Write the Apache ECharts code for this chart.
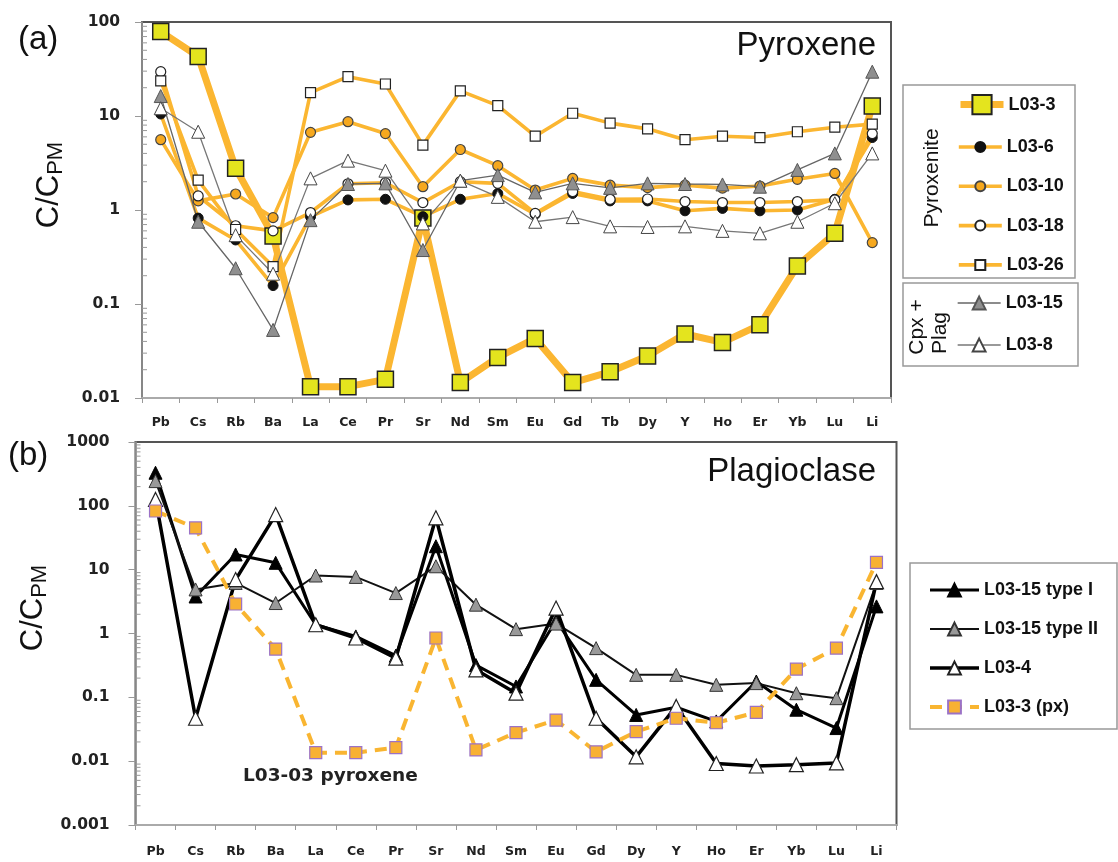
<!DOCTYPE html>
<html><head><meta charset="utf-8">
<script src="https://cdn.jsdelivr.net/npm/echarts@6/dist/echarts.min.js"></script>
<style>html,body{margin:0;padding:0;background:#fff}#c{width:1118px;height:862px}</style>
</head><body><div id="c"></div>
<script>
// ---------- categories & tick labels ----------
const topCats = ['Pb','Cs','Rb','Ba','La','Ce','Pr','Sr','Nd','Sm','Eu','Gd','Tb','Dy','Y','Ho','Er','Yb','Lu','Li'];
const botCats = ['Pb','Cs','Rb','Ba','La','Ce','Pr','Sr','Nd','Sm','Eu','Gd','Dy','Y','Ho','Er','Yb','Lu','Li'];
const topTickLabels = ['0.01','0.1','1','10','100'];
const botTickLabels = ['0.001','0.01','0.1','1','10','100','1000'];

// ---------- (a) Pyroxene ----------
const L03_3  = [79,43,2.78,0.53,0.0132,0.0132,0.0158,0.82,0.0146,0.027,0.043,0.0146,0.019,0.028,0.048,0.039,0.06,0.254,0.565,12.8];
const L03_6  = [10.5,0.82,0.48,0.157,0.85,1.28,1.3,0.85,1.3,1.5,0.9,1.5,1.25,1.25,0.98,1.04,0.98,1.0,1.3,5.9];
const L03_10 = [5.6,1.25,1.48,0.83,6.7,8.7,6.5,1.77,4.4,2.96,1.63,2.17,1.84,1.73,1.84,1.71,1.8,2.12,2.45,0.45];
const L03_18 = [29.6,1.41,0.68,0.6,0.94,1.9,1.95,1.2,2.0,1.92,0.92,1.57,1.3,1.31,1.23,1.2,1.2,1.23,1.28,6.5];
const L03_26 = [23.6,2.08,0.62,0.25,17.7,26.2,21.9,4.9,18.5,12.9,6.1,10.7,8.4,7.3,5.6,6.1,5.9,6.8,7.6,8.2];
const L03_15 = [16.3,0.75,0.24,0.053,0.78,1.89,1.92,0.375,2.05,2.35,1.54,1.92,1.72,1.92,1.89,1.87,1.77,2.67,4.0,29.6];
const L03_8  = [12.1,6.8,0.54,0.21,2.17,3.35,2.62,0.72,2.05,1.38,0.75,0.84,0.67,0.66,0.67,0.6,0.565,0.75,1.18,4.0];

// ---------- (b) Plagioclase ----------
const typeI   = [330,3.8,17.3,12.8,1.37,0.9,0.45,23.3,0.32,0.148,1.6,0.188,0.053,0.07,0.042,0.177,0.064,0.033,2.66];
const typeII  = [244,4.9,6.2,3.0,8.1,7.7,4.3,11.3,2.83,1.17,1.43,0.59,0.225,0.225,0.157,0.167,0.116,0.097,6.2];
const L03_4   = [126,0.047,7,73,1.37,0.85,0.41,65,0.27,0.116,2.5,0.047,0.0117,0.072,0.0092,0.0084,0.0088,0.0094,6.5];
const L03_3px = [83,45,2.9,0.57,0.0136,0.0136,0.0163,0.85,0.015,0.028,0.044,0.014,0.029,0.047,0.04,0.058,0.277,0.59,13];

const ORANGE = '#FBB631';
const legendText = {fontFamily:'Liberation Sans', fontWeight:'bold', fontSize:18, color:'#111', lineHeight:20};
const catLabel = {color:'#222', fontWeight:'bold', fontSize:12.5, fontFamily:'DejaVu Sans', interval:0};
const valLabelStyle = {color:'#222', fontWeight:'bold', fontSize:15.5, fontFamily:'DejaVu Sans'};

function logFormatter(labels, minExp) {
  return v => labels[Math.round(Math.log10(v)) - minExp] || '';
}
function minorTickData(minExp, maxExp) {
  const out = [];
  for (let e = minExp; e < maxExp; e++) for (let m = 2; m <= 9; m++) out.push([0, m * Math.pow(10, e)]);
  return out;
}
function minorSeries(idx, minExp, maxExp) {
  return {
    type:'custom', xAxisIndex:idx, yAxisIndex:idx, silent:true, clip:false, z:5,
    data: minorTickData(minExp, maxExp), encode:{x:0, y:1},
    renderItem: (params, api) => {
      const v = api.value(1);
      const p = api.coord([0, v]);
      const bw = api.size([1, 0], [0, v])[0];
      const x0 = p[0] - bw / 2;
      return {type:'line', shape:{x1:x0, y1:p[1], x2:x0 + 5, y2:p[1]}, style:{stroke:'#999', lineWidth:1}};
    }
  };
}
function line(name, data, idx, symbol, size, fill, border, bw, lcolor, lwidth, ltype) {
  return {
    name, type:'line', data, xAxisIndex:idx, yAxisIndex:idx,
    symbol, symbolSize:size, showAllSymbol:true, silent:true,
    lineStyle:{color:lcolor, width:lwidth, type:ltype || 'solid'},
    itemStyle:{color:fill, borderColor:border, borderWidth:bw},
    emphasis:{disabled:true}
  };
}
function xAxisCfg(idx, cats, margin) {
  return {type:'category', gridIndex:idx, data:cats, boundaryGap:true,
    axisLine:{show:true, lineStyle:{color:'#aaa', width:2}},
    axisTick:{show:true, length:5, lineStyle:{color:'#999'}},
    axisLabel:Object.assign({margin}, catLabel), splitLine:{show:false}};
}
function yAxisCfg(idx, min, max, split, labels, minExp, margin) {
  return {type:'log', gridIndex:idx, logBase:10, min, max, splitNumber:split,
    axisLine:{show:true, lineStyle:{color:'#999', width:1.5}},
    axisTick:{show:true, length:7, lineStyle:{color:'#999'}},
    axisLabel:Object.assign({margin, formatter:logFormatter(labels, minExp)}, valLabelStyle),
    splitLine:{show:false}, minorTick:{show:false}};
}

const chart = echarts.init(document.getElementById('c'), null, {renderer:'canvas'});
chart.setOption({
  animation:false,
  backgroundColor:'#fff',
  grid:[
    {left:142, top:22, width:749, height:376, show:true, borderColor:'#555', borderWidth:2, containLabel:false, outerBoundsMode:'none'},
    {left:135.5, top:442, width:761, height:383, show:true, borderColor:'#555', borderWidth:2, containLabel:false, outerBoundsMode:'none'}
  ],
  xAxis:[xAxisCfg(0, topCats, 18), xAxisCfg(1, botCats, 20)],
  yAxis:[yAxisCfg(0, 0.01, 100, 4, topTickLabels, -2, 22), yAxisCfg(1, 0.001, 1000, 6, botTickLabels, -3, 26)],
  legend:[
    {data:['L03-3'], left:957, top:94, orient:'vertical', itemWidth:43, itemHeight:24, padding:0, selectedMode:false, textStyle:legendText, lineStyle:{width:'inherit'}},
    {data:['L03-6','L03-10','L03-18','L03-26'], left:957, top:137, orient:'vertical', itemWidth:43, itemHeight:12.5, itemGap:19.3, padding:0, selectedMode:false, textStyle:legendText, lineStyle:{width:'inherit'}},
    {data:['L03-15','L03-8'], left:957, top:293, orient:'vertical', itemWidth:43, itemHeight:16, itemGap:22, padding:0, selectedMode:false, textStyle:legendText, lineStyle:{width:'inherit'}},
    {data:['L03-15 type I','L03-15 type II','L03-4','L03-3 (px)'], left:928, top:580, orient:'vertical', itemWidth:49, itemHeight:16, itemGap:19, padding:0, selectedMode:false, textStyle:legendText, lineStyle:{width:'inherit'}}
  ],
  series:[
    minorSeries(0, -2, 2),
    minorSeries(1, -3, 3),
    line('L03-3', L03_3, 0, 'rect', 16, '#E4E41E', '#222', 1.5, ORANGE, 7),
    line('L03-6', L03_6, 0, 'circle', 10, '#111', '#111', 1, ORANGE, 3.6),
    line('L03-10', L03_10, 0, 'circle', 10, '#F6A81E', '#444', 1.2, ORANGE, 3.6),
    line('L03-18', L03_18, 0, 'circle', 10, '#fff', '#222', 1.2, ORANGE, 3.6),
    line('L03-26', L03_26, 0, 'rect', 10, '#fff', '#222', 1.2, ORANGE, 3.6),
    line('L03-15', L03_15, 0, 'triangle', 13, '#8F8F8F', '#555', 1, '#666', 1.3),
    line('L03-8', L03_8, 0, 'triangle', 13, '#fff', '#444', 1, '#777', 1.3),
    line('L03-15 type I', typeI, 1, 'triangle', 13, '#000', '#000', 1, '#000', 3),
    line('L03-15 type II', typeII, 1, 'triangle', 13, '#999', '#333', 1, '#111', 2),
    line('L03-4', L03_4, 1, 'triangle', 14, '#fff', '#222', 1.2, '#000', 3.5),
    line('L03-3 (px)', L03_3px, 1, 'rect', 12, '#F8B133', '#9B72C6', 1.2, '#F9B531', 4, [12, 8])
  ],
  graphic:[
    {type:'text', left:null, x:876, y:46, style:{text:'Pyroxene', font:'33px "Liberation Sans"', fill:'#111', align:'right', verticalAlign:'middle'}},
    {type:'text', x:876, y:472, style:{text:'Plagioclase', font:'33px "Liberation Sans"', fill:'#111', align:'right', verticalAlign:'middle'}},
    {type:'text', x:18, y:40, style:{text:'(a)', font:'33px "Liberation Sans"', fill:'#111', align:'left', verticalAlign:'middle'}},
    {type:'text', x:8, y:456, style:{text:'(b)', font:'33px "Liberation Sans"', fill:'#111', align:'left', verticalAlign:'middle'}},
    {type:'text', x:49, y:185, rotation:Math.PI/2, style:{text:'{a|C/C}{b|PM}', align:'center', verticalAlign:'middle',
      rich:{a:{fontSize:31, fontFamily:'Liberation Sans', fill:'#111', lineHeight:36}, b:{fontSize:22, fontFamily:'Liberation Sans', fill:'#111', lineHeight:22, verticalAlign:'bottom'}}}},
    {type:'text', x:33, y:608, rotation:Math.PI/2, style:{text:'{a|C/C}{b|PM}', align:'center', verticalAlign:'middle',
      rich:{a:{fontSize:31, fontFamily:'Liberation Sans', fill:'#111', lineHeight:36}, b:{fontSize:22, fontFamily:'Liberation Sans', fill:'#111', lineHeight:22, verticalAlign:'bottom'}}}},
    {type:'text', x:243, y:776, style:{text:'L03-03 pyroxene', font:'bold 18.5px "DejaVu Sans"', fill:'#222', align:'left', verticalAlign:'middle'}},
    {type:'rect', shape:{x:903, y:85, width:172, height:193}, style:{fill:'none', stroke:'#999', lineWidth:1.5}},
    {type:'rect', shape:{x:903, y:283, width:175, height:83}, style:{fill:'none', stroke:'#999', lineWidth:1.5}},
    {type:'rect', shape:{x:910, y:563, width:207, height:166}, style:{fill:'none', stroke:'#999', lineWidth:1.5}},
    {type:'text', x:932, y:178, rotation:Math.PI/2, style:{text:'Pyroxenite', font:'21px "Liberation Sans"', fill:'#111', align:'center', verticalAlign:'middle'}},
    {type:'text', x:917, y:327, rotation:Math.PI/2, style:{text:'Cpx +', font:'21px "Liberation Sans"', fill:'#111', align:'center', verticalAlign:'middle'}},
    {type:'text', x:940, y:333, rotation:Math.PI/2, style:{text:'Plag', font:'21px "Liberation Sans"', fill:'#111', align:'center', verticalAlign:'middle'}}
  ]
});
</script>
</body></html>
